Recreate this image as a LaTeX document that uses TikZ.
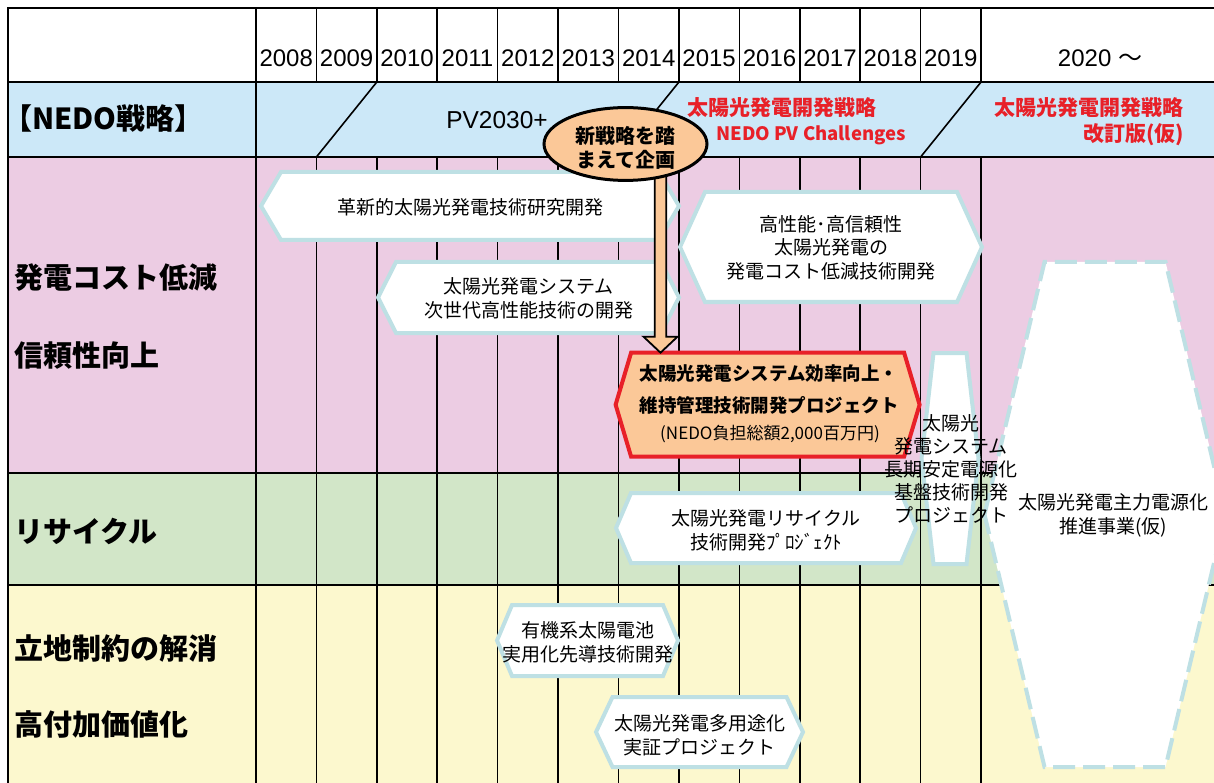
\documentclass[tikz,border=0pt]{standalone}
\usepackage{fontspec}
\setmainfont{Noto Sans CJK JP}
\newfontfamily\latinfont{Liberation Sans}
\usetikzlibrary{calc,shapes.geometric}
\definecolor{nedocol}{RGB}{204,232,248}
\definecolor{costcol}{RGB}{236,204,227}
\definecolor{recycol}{RGB}{210,230,200}
\definecolor{sitecol}{RGB}{252,248,206}
\definecolor{hexcol}{RGB}{190,224,228}
\definecolor{orangecol}{RGB}{251,200,152}
\definecolor{redcol}{RGB}{232,32,40}
\newcommand{\hexband}[6][hexline]{%
  \draw[#1] ({#2-#4-#6},{#3}) -- ({#2-#4},{#3-#5}) -- ({#2+#4},{#3-#5}) -- ({#2+#4+#6},{#3})
    -- ({#2+#4},{#3+#5}) -- ({#2-#4},{#3+#5}) -- cycle;}

\begin{document}
\begin{tikzpicture}[
    x=1pt, y=-1pt,
    gridline/.style={line width=1.6pt, black},
    hexline/.style={draw=hexcol, fill=white, line width=4pt},
    hexred/.style={draw=redcol, fill=orangecol, line width=4pt},
    hexdash/.style={hexline, dash pattern=on 22pt off 8pt},
    hextext/.style={font=\fontsize{19}{24}\selectfont, align=center, inner sep=0pt},
    rowlabel/.style={font=\fontsize{29}{29}\selectfont\bfseries, anchor=west, inner sep=0pt},
    yearlabel/.style={font=\latinfont\fontsize{24}{24}\selectfont, inner sep=0pt},
    redlabel/.style={font=\fontsize{21}{25}\selectfont\bfseries, text=redcol, inner sep=0pt},
    planbox/.style={ellipse, draw=black, fill=orangecol, line width=3pt, minimum width=163pt, minimum height=72pt,
        inner sep=0pt, outer sep=0pt, font=\fontsize{20}{24}\selectfont\bfseries, align=center},
    blockarrow/.style={draw=black, fill=orangecol, line width=1.8pt},
]
\useasboundingbox (0,0) rectangle (1214,783);
\clip (0,0) rectangle (1214,783);
\fill[white] (0,0) rectangle (1214,783);
\fill[nedocol] (8,82) rectangle (1214,157);
\fill[costcol] (8,157) rectangle (1214,473);
\fill[recycol] (8,473) rectangle (1214,585);
\fill[sitecol] (8,585) rectangle (1214,783);

\draw[gridline] (8,783) -- (8,8) -- (1214,8);
\foreach \yy in {82,157,473,585} {\draw[gridline] (8,\yy) -- (1214,\yy);}
\draw[gridline] (256,8) -- (256,783);
\foreach \k in {1,...,12} {
    \draw[gridline] ({256+\k*60.42},8) -- ({256+\k*60.42},82);
    \draw[gridline] ({256+\k*60.42},157) -- ({256+\k*60.42},783);
}
\foreach \k in {2,7,12} {\draw[gridline] ({256+\k*60.42},82) -- ({256+(\k-1)*60.42},157);}

\foreach \yr [count=\k from 0] in {2008,...,2019} {
    \node[yearlabel] (y\yr) at ({256+(\k+0.5)*60.42},58) {\yr};
}
\node[yearlabel] (y2020) at (1100,58) {2020 {\rmfamily ～}};

\node[rowlabel] (nedo) at (3,119) {【NEDO戦略】};
\node[rowlabel] (cost) at (14,278) {発電コスト低減};
\node[rowlabel] (relia) at (14,356) {信頼性向上};
\node[rowlabel] (recy) at (14,531) {リサイクル};
\node[rowlabel] (site) at (14,648) {立地制約の解消};
\node[rowlabel] (value) at (14,724) {高付加価値化};

\node[font=\latinfont\fontsize{24.5}{24.5}\selectfont, inner sep=0pt] (pv) at (497,120) {PV2030+};
\node[redlabel, anchor=west] (strat) at (687,108) {太陽光発電開発戦略};
\node[redlabel, anchor=west, font=\fontsize{18.5}{24}\selectfont\bfseries] (chall) at (716,135.5) {NEDO PV Challenges};
\node[redlabel, anchor=east] (strat2) at (1184,108) {太陽光発電開発戦略};
\node[redlabel, anchor=east] (rev) at (1184,135) {改訂版(仮)};

\hexband{470}{206}{189}{34}{20}
\node[hextext] (innov) at (470,207) {革新的太陽光発電技術研究開発};
\hexband{528.5}{297.5}{132.5}{35.5}{18}
\node[hextext] (nextgen) at (528.5,298) {太陽光発電システム\\次世代高性能技術の開発};
\hexband{831}{247}{126}{55}{25}
\node[hextext, font=\fontsize{19}{23.5}\selectfont] (highperf) at (831,247.5) {高性能･高信頼性\\太陽光発電の\\発電コスト低減技術開発};
\hexband[hexred]{767.6}{404.7}{136.5}{52}{15.5}
\node[hextext, font=\fontsize{18.5}{32}\selectfont\bfseries] (effprj) at (769,390) {太陽光発電システム効率向上・\\維持管理技術開発プロジェクト};
\node[hextext, font=\fontsize{17}{17}\selectfont] (effcost) at (770,434) {(NEDO負担総額2,000百万円)};
\hexband{766}{528}{135}{35}{15}
\node[hextext] (recycle) at (766,530.5) {太陽光発電リサイクル\\技術開発ﾌﾟﾛｼﾞｪｸﾄ};
\hexband{587.5}{640.5}{75.5}{35.5}{15}
\node[hextext] (organic) at (587.5,642.5) {有機系太陽電池\\実用化先導技術開発};
\hexband{699.5}{732}{87}{35}{16.5}
\node[hextext] (multiuse) at (699.5,735) {太陽光発電多用途化\\実証プロジェクト};
\hexband{950}{458.5}{16.5}{105.5}{12}
\hexband[hexdash]{1105}{514.5}{60.5}{252.5}{60}
\node[hextext, font=\fontsize{19}{23}\selectfont] (longterm) at (951,469) {太陽光\\発電システム\\長期安定電源化\\基盤技術開発\\プロジェクト};
\node[hextext] (mainpower) at (1113,515) {太陽光発電主力電源化\\推進事業(仮)};

\coordinate (effTop) at (660.5,352.7);
\coordinate (planC) at (625.5,144);
\draw[blockarrow] ($(planC -| effTop)+(-5.7,0)$) -- ($(effTop)+(-5.7,-16)$) -- ($(effTop)+(-17,-16)$) -- (effTop)
    -- ($(effTop)+(17,-16)$) -- ($(effTop)+(5.7,-16)$) -- ($(planC -| effTop)+(5.7,0)$) -- cycle;
\node[planbox] (plan) at (planC) {\rule{0pt}{25.6pt}新戦略を踏\\まえて企画};
\end{tikzpicture}
\end{document}
